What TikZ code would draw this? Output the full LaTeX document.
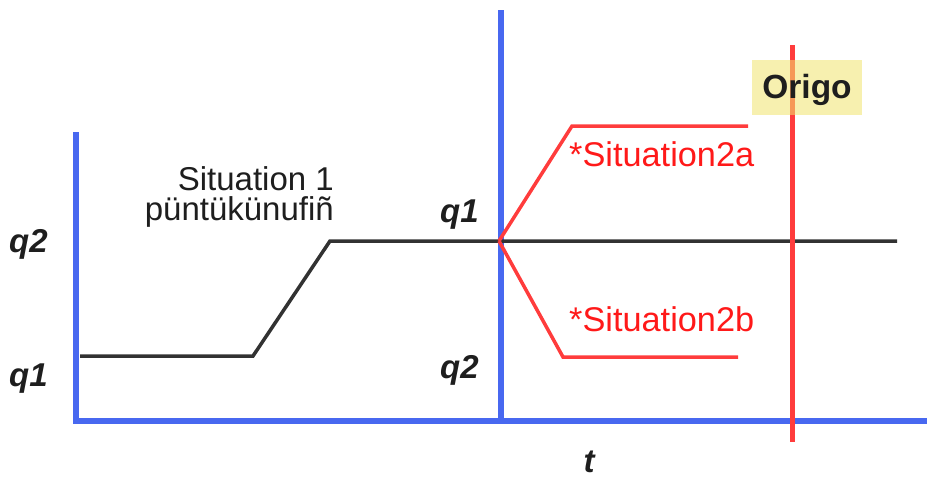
\documentclass[tikz,border=0pt]{standalone}
\usepackage{fontspec}
\setmainfont{Liberation Sans}
\definecolor{axblue}{RGB}{72,104,240}
\definecolor{lnred}{RGB}{255,60,60}
\definecolor{txred}{RGB}{255,25,25}
\definecolor{lngray}{RGB}{50,50,50}
\definecolor{txdark}{RGB}{30,30,30}
\definecolor{boxyel}{RGB}{240,228,110}
\begin{document}
\begin{tikzpicture}[x=1pt,y=-1pt,
  blueax/.style={draw=axblue,line width=5.5pt},
  grayln/.style={draw=lngray,line width=3.5pt},
  redln/.style={draw=lnred,line width=3.5pt},
  redvert/.style={draw=lnred,line width=5pt},
  lbl/.style={inner sep=0pt,font=\fontsize{33}{30}\selectfont,text=txdark},
  qlbl/.style={lbl,font=\fontsize{33}{30}\selectfont\bfseries\itshape},
  redlbl/.style={lbl,font=\fontsize{34.3}{30}\selectfont,text=txred}]
\useasboundingbox (0,0) rectangle (927,477);
% coordinates
\coordinate (L1) at (76,132);
\coordinate (L2) at (76,421);
\coordinate (L3) at (927,421);
\coordinate (M1) at (501,10);
\coordinate (M2) at (501,420);
\coordinate (G1) at (80,356);
\coordinate (G2) at (253,356);
\coordinate (G3) at (330,241);
\coordinate (G4) at (897,241);
\coordinate (R0) at (499,241);
\coordinate (Ra1) at (572,126);
\coordinate (Ra2) at (748,126);
\coordinate (Rb1) at (563,357);
\coordinate (Rb2) at (738,357);
\coordinate (V1) at (792,45);
\coordinate (V2) at (792,442);
% axes
\draw[blueax,line join=miter] (L1) -- (L2) -- (L3);
\draw[blueax] (M1) -- (M2);
% situation 1 line
\draw[grayln,line join=miter] (G1) -- (G2) -- (G3) -- (G4);
% situation 2 lines
\draw[redln,line join=miter] (R0) -- (Ra1) -- (Ra2);
\draw[redln,line join=miter] (R0) -- (Rb1) -- (Rb2);
% origo line
\draw[redvert] (V1) -- (V2);
\node[minimum width=110pt,minimum height=55pt,inner sep=0pt,fill=boxyel,fill opacity=0.55] (obox) at (807,87.5) {};
\node[lbl,font=\fontsize{33.5}{30}\selectfont\bfseries,anchor=base] (origo) at (807,98) {Origo};
% labels
\node[lbl,align=right,anchor=north east] (sit1) at (334,166) {Situation 1\\püntükünufiñ};
\node[qlbl,anchor=base west] (q2l) at (9,252) {q2};
\node[qlbl,anchor=base west] (q1l) at (9,386) {q1};
\node[qlbl,anchor=base west] (q1m) at (440,222) {q1};
\node[qlbl,anchor=base west] (q2m) at (440,378) {q2};
\node[qlbl,anchor=base] (tl) at (589,472) {t};
\node[redlbl,anchor=base west] (s2a) at (569,166) {*Situation2a};
\node[redlbl,anchor=base west] (s2b) at (569,331) {*Situation2b};
\end{tikzpicture}
\end{document}
